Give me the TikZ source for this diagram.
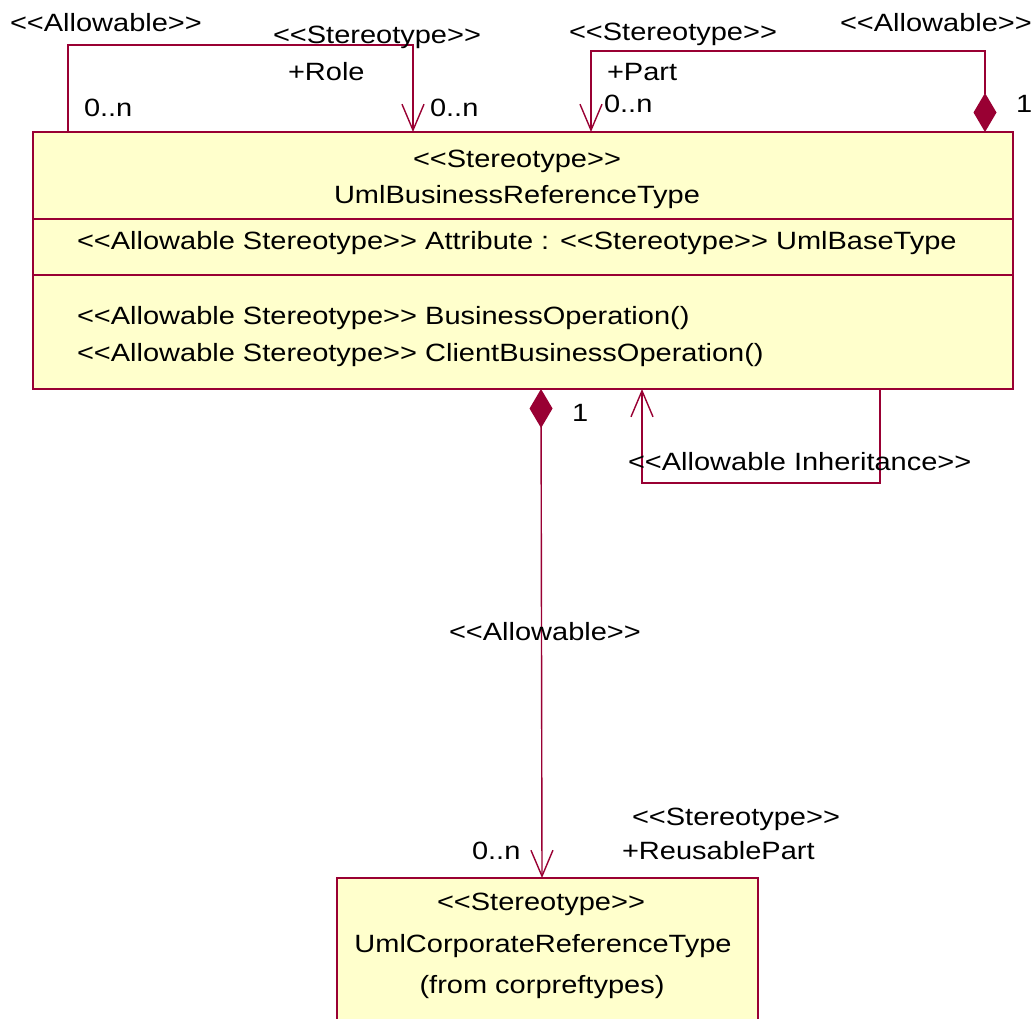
\documentclass[tikz,border=0pt]{standalone}
\usepackage{fontspec}
\setmainfont{Liberation Sans}[FakeStretch=1.16, Ligatures=TeXOff]
\usetikzlibrary{arrows.meta}
\definecolor{umlline}{RGB}{153,0,51}
\definecolor{umlfill}{RGB}{255,255,204}
\begin{document}
\begin{tikzpicture}[x=1pt,y=-1pt,
  every node/.style={inner sep=0pt, outer sep=0pt},
  lbl/.style={font=\fontsize{25}{30}\selectfont, text=black},
  lblL/.style={lbl, anchor=base west},
  lblC/.style={lbl, anchor=base},
  classbox/.style={draw=umlline, fill=umlfill, line width=1.8pt, rectangle},
  link/.style={draw=umlline, line width=1.4pt},
  navend/.style={-{Straight Barb[length=26pt,width=22pt]}},
  compboth/.style={{Diamond[length=39pt,width=23pt]}-{Straight Barb[length=26pt,width=22pt]}}]
\useasboundingbox (0,0) rectangle (1034,1018);

% classes
\node[classbox, minimum width=980pt, minimum height=257pt] (biz) at (523,260.5) {};
\node[classbox, minimum width=421pt, minimum height=150pt] (corp) at (547.5,953) {};

% compartment separators
\coordinate (sepA) at (0,219);
\coordinate (sepB) at (0,275);
\draw[link] (sepA -| biz.west) -- (sepA -| biz.east);
\draw[link] (sepB -| biz.west) -- (sepB -| biz.east);

% class texts
\node[lblC] (bizst) at (517,167) {<<Stereotype>>};
\node[lblC] (bizname) at (517,203) {UmlBusinessReferenceType};
\node[lblL] (bizattr) at (77,249) {<<Allowable Stereotype>> Attribute : <<Stereotype>> UmlBaseType};
\node[lblL] (bizop1) at (77,324) {<<Allowable Stereotype>> BusinessOperation()};
\node[lblL] (bizop2) at (77,361) {<<Allowable Stereotype>> ClientBusinessOperation()};
\node[lblC] (corpst) at (541,910) {<<Stereotype>>};
\node[lblC] (corpname) at (543,952) {UmlCorporateReferenceType};
\node[lblC] (corpfrom) at (542,993) {(from corpreftypes)};

% +Role self association
\coordinate (roleA) at (68,45);
\coordinate (roleB) at (413,45);
\draw[link, navend] (roleA |- biz.north) -- (roleA) -- (roleB) -- (roleB |- biz.north);
\node[lblL] (roleallow) at (10,31) {<<Allowable>>};
\node[lblL] (rolest) at (273,43) {<<Stereotype>>};
\node[lblL] (rolename) at (288,80) {+Role};
\node[lblL] (rolemA) at (84,116) {0..n};
\node[lblL] (rolemB) at (430,116) {0..n};

% +Part self composition
\coordinate (partA) at (985,51);
\coordinate (partB) at (591,51);
\draw[link, compboth] (partA |- biz.north) -- (partA) -- (partB) -- (partB |- biz.north);
\node[lblL] (partst) at (569,40) {<<Stereotype>>};
\node[lblL] (partallow) at (840,31) {<<Allowable>>};
\node[lblL] (partname) at (607,80) {+Part};
\node[lblL] (partmB) at (604,112) {0..n};
\node[lblL] (partmA) at (1016,112) {1};

% self inheritance
\coordinate (inhA) at (880,483);
\coordinate (inhB) at (642,483);
\draw[link, navend] (inhA |- biz.south) -- (inhA) -- (inhB) -- (inhB |- biz.south);
\node[lblL] (inhlabel) at (628,470) {<<Allowable Inheritance>>};

% +ReusablePart composition
\coordinate (reuseA) at (541,0);
\coordinate (reuseB) at (542,0);
\draw[link, compboth] (reuseA |- biz.south) -- (reuseB |- corp.north);
\node[lblL] (reusem1) at (572,421) {1};
\node[lblL] (reuseallow) at (449,640) {<<Allowable>>};
\node[lblL] (reusest) at (632,825) {<<Stereotype>>};
\node[lblL] (reusename) at (622,859) {+ReusablePart};
\node[lblL] (reusemn) at (472,859) {0..n};
\end{tikzpicture}
\end{document}
